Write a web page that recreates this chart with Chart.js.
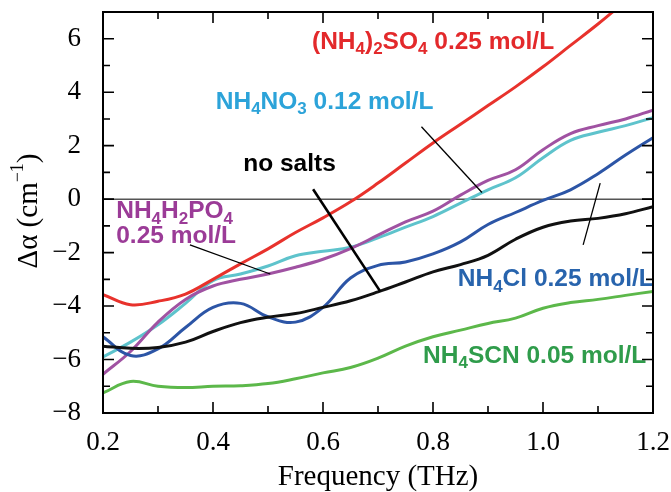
<!DOCTYPE html>
<html>
<head>
<meta charset="utf-8">
<script src="https://cdn.jsdelivr.net/npm/chart.js@4.4.1/dist/chart.umd.min.js"></script>
<style>
  html, body { margin: 0; padding: 0; background: #fff; }
  #wrap { width: 671px; height: 492px; }
</style>
</head>
<body>
<div id="wrap"><canvas id="c"></canvas></div>
<script>
// frequency grid (THz)
const FREQ = [0.2, 0.25, 0.3, 0.35, 0.4, 0.45, 0.5, 0.55, 0.6, 0.65, 0.7,
              0.75, 0.8, 0.85, 0.9, 0.95, 1.0, 1.05, 1.1, 1.15, 1.2];

const SO4   = [-3.57, -3.95, -3.82, -3.55, -3.0, -2.42, -1.86, -1.25, -0.7, -0.1, 0.6,
               1.35, 2.1, 2.8, 3.5, 4.2, 4.95, 5.75, 6.55, 7.4, 8.2];
const NOSALT = [-5.5, -5.58, -5.55, -5.35, -4.95, -4.62, -4.42, -4.28, -4.05, -3.8, -3.47,
                -3.1, -2.72, -2.45, -2.1, -1.5, -1.05, -0.82, -0.72, -0.55, -0.28];
const CL    = [-5.15, -5.85, -5.6, -4.8, -4.05, -3.9, -4.4, -4.6, -4.05, -2.95, -2.48,
               -2.35, -2.05, -1.6, -0.95, -0.5, -0.05, 0.35, 0.95, 1.65, 2.3];
const PO4   = [-6.55, -5.7, -4.6, -3.75, -3.25, -3.0, -2.8, -2.55, -2.25, -1.85, -1.35,
               -0.85, -0.45, 0.15, 0.7, 1.1, 1.85, 2.45, 2.75, 3.0, 3.33];
const NO3   = [-5.9, -5.35, -4.7, -3.9, -3.05, -2.8, -2.5, -2.12, -1.95, -1.8, -1.45,
               -1.05, -0.65, -0.15, 0.35, 0.8, 1.55, 2.2, 2.5, 2.75, 3.05];
const SCN   = [-7.25, -6.82, -7.0, -7.05, -7.0, -6.98, -6.9, -6.72, -6.5, -6.3, -5.95,
               -5.5, -5.15, -4.9, -4.65, -4.45, -4.08, -3.87, -3.75, -3.6, -3.45];

const XTICKS = [0.2, 0.4, 0.6, 0.8, 1.0, 1.2];
const XMINOR = [0.3, 0.5, 0.7, 0.9, 1.1];
const YTICKS = [-8, -6, -4, -2, 0, 2, 4, 6];
const YMINOR = [-7, -5, -3, -1, 1, 3, 5];

// text labels: "_x" marks a subscript character
const NOTES = [
  { text: '(NH_4)_2SO_4 0.25 mol/L', x: 0.58,  y: 5.87,  color: '#e3292b' },
  { text: 'NH_4NO_3 0.12 mol/L',     x: 0.405, y: 3.63,  color: '#2ca3d9' },
  { text: 'no salts',                x: 0.455, y: 1.32,  color: '#000000' },
  { text: 'NH_4H_2PO_4',             x: 0.224, y: -0.47, color: '#9b3b97' },
  { text: '0.25 mol/L',              x: 0.224, y: -1.37, color: '#9b3b97' },
  { text: 'NH_4Cl 0.25 mol/L',       x: 0.845, y: -3.01, color: '#2864ad' },
  { text: 'NH_4SCN 0.05 mol/L',      x: 0.782, y: -5.88, color: '#2f9c4b' }
];

const POINTERS = [
  { x1: 0.779, y1: 2.71, x2: 0.889, y2: 0.25,  w: 1.3 },
  { x1: 0.582, y1: 0.37, x2: 0.704, y2: -3.45, w: 2.6 },
  { x1: 0.358, y1: -1.71, x2: 0.504, y2: -2.8, w: 1.3 },
  { x1: 1.104, y1: 0.6, x2: 1.073, y2: -1.71,  w: 1.3 }
];

function pts(ys) {
  return FREQ.map((f, i) => ({ x: f, y: ys[i] }));
}

function series(data, color) {
  return {
    data: pts(data),
    borderColor: color,
    borderWidth: 3,
    pointRadius: 0,
    tension: 0.4,
    fill: false
  };
}

function drawRich(ctx, text, x, y, size) {
  let cx = x;
  for (let i = 0; i < text.length; i++) {
    let ch = text[i];
    if (ch === '_') {
      i++;
      ch = text[i];
      ctx.font = `bold ${Math.round(size * 0.68)}px "Liberation Sans", Arial, sans-serif`;
      ctx.fillText(ch, cx, y + size * 0.3);
    } else {
      ctx.font = `bold ${size}px "Liberation Sans", Arial, sans-serif`;
      ctx.fillText(ch, cx, y);
    }
    cx += ctx.measureText(ch).width;
  }
}

const decor = {
  id: 'decor',
  beforeDatasetsDraw(chart) {
    const { ctx, chartArea: a, scales: { x, y } } = chart;
    ctx.save();
    ctx.strokeStyle = '#555';
    ctx.lineWidth = 1.5;
    ctx.beginPath();
    ctx.moveTo(a.left, y.getPixelForValue(0));
    ctx.lineTo(a.right, y.getPixelForValue(0));
    ctx.stroke();
    ctx.restore();
  },
  afterDatasetsDraw(chart) {
    const { ctx, chartArea: a, scales: { x, y } } = chart;
    ctx.save();

    // pointer lines
    ctx.strokeStyle = '#000';
    POINTERS.forEach(p => {
      ctx.lineWidth = p.w;
      ctx.beginPath();
      ctx.moveTo(x.getPixelForValue(p.x1), y.getPixelForValue(p.y1));
      ctx.lineTo(x.getPixelForValue(p.x2), y.getPixelForValue(p.y2));
      ctx.stroke();
    });

    // labels
    ctx.textBaseline = 'middle';
    ctx.textAlign = 'left';
    NOTES.forEach(n => {
      ctx.fillStyle = n.color;
      drawRich(ctx, n.text, x.getPixelForValue(n.x), y.getPixelForValue(n.y), 24.5);
    });

    // frame
    ctx.strokeStyle = '#000';
    ctx.lineWidth = 2;
    ctx.strokeRect(a.left, a.top, a.right - a.left, a.bottom - a.top);

    // inward ticks on all sides
    ctx.lineWidth = 1.6;
    ctx.beginPath();
    const tx = (v, len) => {
      const px = x.getPixelForValue(v);
      ctx.moveTo(px, a.bottom); ctx.lineTo(px, a.bottom - len);
      ctx.moveTo(px, a.top); ctx.lineTo(px, a.top + len);
    };
    const ty = (v, len) => {
      const py = y.getPixelForValue(v);
      ctx.moveTo(a.left, py); ctx.lineTo(a.left + len, py);
      ctx.moveTo(a.right, py); ctx.lineTo(a.right - len, py);
    };
    XTICKS.forEach(v => tx(v, 11));
    XMINOR.forEach(v => tx(v, 7));
    YTICKS.forEach(v => ty(v, 11));
    YMINOR.forEach(v => ty(v, 7));
    ctx.stroke();

    // axis titles
    ctx.fillStyle = '#000';
    ctx.textAlign = 'center';
    ctx.font = '29px "Liberation Serif", "Times New Roman", serif';
    ctx.fillText('Frequency (THz)', (a.left + a.right) / 2, 477);

    ctx.translate(29, 211);
    ctx.rotate(-Math.PI / 2);
    ctx.textAlign = 'left';
    const big = '29px "Liberation Serif", "Times New Roman", serif';
    const small = '18px "Liberation Serif", "Times New Roman", serif';
    const parts = [['Δα (cm', big, 0], ['−1', small, -11], [')', big, 0]];
    let total = 0;
    parts.forEach(p => { ctx.font = p[1]; total += ctx.measureText(p[0]).width; });
    let cx = -total / 2;
    parts.forEach(p => {
      ctx.font = p[1];
      ctx.fillText(p[0], cx, p[2]);
      cx += ctx.measureText(p[0]).width;
    });
    ctx.restore();
  }
};

const tickFont = { family: '"Liberation Serif", "Times New Roman", serif', size: 27 };

new Chart(document.getElementById('c'), {
  type: 'line',
  data: {
    datasets: [
      series(SCN, '#5cb84a'),
      series(SO4, '#e8322c'),
      series(NOSALT, '#111111'),
      series(CL, '#2c55a6'),
      series(PO4, '#a052a2'),
      series(NO3, '#5ec3cc')
    ]
  },
  options: {
    responsive: true,
    maintainAspectRatio: false,
    animation: false,
    layout: { autoPadding: false, padding: { left: 0, right: 18, top: 12, bottom: 0 } },
    plugins: { legend: { display: false }, tooltip: { enabled: false } },
    scales: {
      x: {
        type: 'linear',
        min: 0.2,
        max: 1.2,
        grid: { display: false, drawTicks: false },
        border: { display: false },
        afterBuildTicks: s => { s.ticks = XTICKS.map(v => ({ value: v })); },
        afterFit: s => {
          s.height = 79;
          s.paddingLeft = 0; s.paddingRight = 0;
        },
        ticks: {
          padding: 14,
          color: '#000',
          font: tickFont,
          maxRotation: 0,
          autoSkip: false,
          callback: v => v.toFixed(1)
        }
      },
      y: {
        min: -8,
        max: 7,
        grid: { display: false, drawTicks: false },
        border: { display: false },
        afterBuildTicks: s => { s.ticks = YTICKS.map(v => ({ value: v })); },
        afterFit: s => {
          s.width = 103;
          s.paddingTop = 0; s.paddingBottom = 0;
        },
        ticks: {
          padding: 22,
          color: '#000',
          font: tickFont,
          autoSkip: false,
          callback: v => (v < 0 ? '\u2212' + Math.abs(v) : String(v))
        }
      }
    }
  },
  plugins: [decor]
});
</script>
</body>
</html>
